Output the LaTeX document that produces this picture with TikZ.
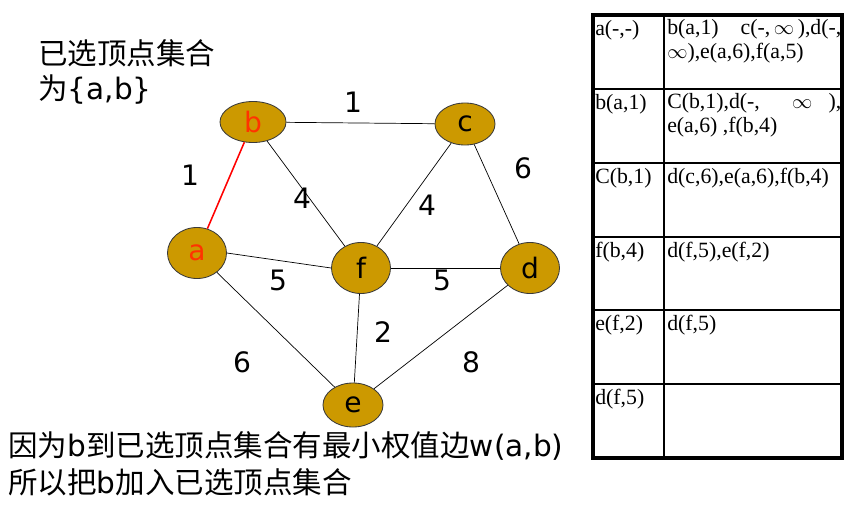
\documentclass[tikz,border=0pt]{standalone}
\usepackage{fontspec}
\setmainfont{DejaVu Sans}
\newfontfamily\cjk{Noto Sans CJK SC}
\newfontfamily\tablefont{Liberation Serif}
\usepackage{xcolor}
\definecolor{prim-node}{HTML}{CC9900}
\definecolor{prim-border}{HTML}{3A3A3A}
\definecolor{prim-text}{HTML}{FF3300}
\definecolor{prim-edge}{HTML}{FF0000}
\usepackage{tikz}
\usetikzlibrary{shapes.geometric}
\tikzset{
  vertex/.style={ellipse, draw=prim-border, fill=prim-node, line width=0.6pt,
    inner sep=0pt, minimum width=1.475cm, minimum height=1.275cm,
    font=\fontsize{20}{24}\selectfont},
  link/.style={black, line width=0.5pt},
  weight/.style={inner sep=0pt, font=\fontsize{20}{24}\selectfont},
  cell/.style={anchor=base west, inner sep=0pt, align=left,
    font=\tablefont\fontsize{15.5}{16.4}\selectfont},
  caption/.style={anchor=west, inner sep=0pt, align=left}
}

\begin{document}
\begin{tikzpicture}[x=0.025cm, y=-0.025cm]

    % Background
    \fill[white] (0,0) rectangle (855,507);

    % Vertices
    \node[vertex, minimum width=1.65cm, minimum height=1.025cm, text=prim-text] (b) at (253,122) {b};
    \node[vertex, minimum width=1.5cm, minimum height=1.05cm] (c) at (465,124) {c};
    \node[vertex, text=prim-text] (a) at (197,253) {a};
    \node[vertex] (f) at (361,268) {f};
    \node[vertex] (d) at (530,268) {d};
    \node[vertex, minimum width=1.5cm, minimum height=1.1cm] (e) at (353,405) {e};

    % Edges
    \draw[prim-edge, line width=1.1pt] (a) -- (b);
    \draw[link] (b) -- (c);
    \draw[link] (b) -- (f);
    \draw[link] (c) -- (f);
    \draw[link] (c) -- (d);
    \draw[link] (a.east) -- (f.west);
    \draw[link] (f) -- (d);
    \draw[link] (a) -- (e);
    \draw[link] (f) -- (e);
    \draw[link] (d) -- (e);

    % Weights
    \node[weight] (wbc) at (353,102) {1};
    \node[weight] (wab) at (190,175) {1};
    \node[weight] (wbf) at (302,198) {4};
    \node[weight] (wcf) at (427,205) {4};
    \node[weight] (wcd) at (523,168) {6};
    \node[weight] (waf) at (278,280) {5};
    \node[weight] (wfd) at (442,280) {5};
    \node[weight] (wfe) at (383,332) {2};
    \node[weight] (wae) at (242,362) {6};
    \node[weight] (wde) at (471,362) {8};

    % Texts
    \node[caption, font=\fontsize{21}{24.5}\selectfont] (chosen) at (38,72)
        {{\cjk 已选顶点集合}\\{\cjk 为}\{a,b\}};
    \node[caption, font=\fontsize{21}{26.5}\selectfont] (reason) at (8,464)
        {{\cjk 因为}b{\cjk 到已选顶点集合有最小权值边}w(a,b)\\{\cjk 所以把}b{\cjk 加入已选顶点集合}};

    % Table
    \draw[line width=1pt] (664,15) -- (664,458);
    \foreach \y in {89,163,237,310,384}
        \draw[line width=1pt] (593,\y) -- (842,\y);
    \draw[line width=2.2pt] (593,15) rectangle (842,458);

    % Table cells
    \node[cell] (k1) at (595,35) {a(-,-)};
    \node[cell] (v1) at (667,58)
        {\makebox[4.35cm][l]{b(a,1)\hfill c(-,\,$\infty$\,),d(-,}\\$\infty$),e(a,6),f(a,5)};
    \node[cell] (k2) at (595,109) {b(a,1)};
    \node[cell] (v2) at (667,132)
        {\makebox[4.35cm][l]{C(b,1),d(-,\hfill\hfill$\infty$\hfill),}\\e(a,6) ,f(b,4)};
    \node[cell] (k3) at (595,183) {C(b,1)};
    \node[cell] (v3) at (667,183) {d(c,6),e(a,6),f(b,4)};
    \node[cell] (k4) at (595,257) {f(b,4)};
    \node[cell] (v4) at (667,257) {d(f,5),e(f,2)};
    \node[cell] (k5) at (595,330) {e(f,2)};
    \node[cell] (v5) at (667,330) {d(f,5)};
    \node[cell] (k6) at (595,404) {d(f,5)};

\end{tikzpicture}
\end{document}
